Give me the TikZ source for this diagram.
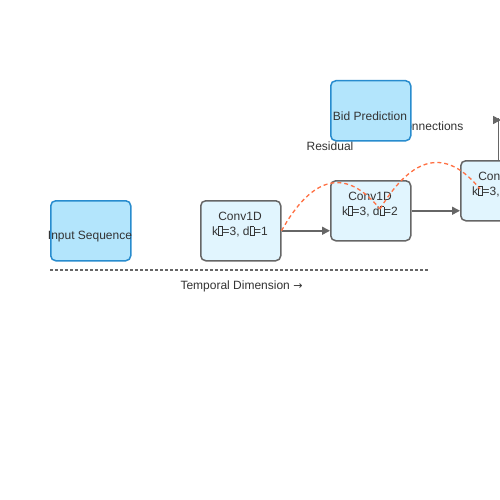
\documentclass[tikz,border=0pt]{standalone}
\usepackage{fontspec}
\setmainfont{Liberation Sans}
\newfontfamily\dejavu{DejaVu Sans}
\usetikzlibrary{arrows.meta}
\definecolor{inblue}{HTML}{B3E5FC}
\definecolor{inedge}{HTML}{288CCE}
\definecolor{convfill}{HTML}{E1F5FE}
\definecolor{greyedge}{HTML}{666666}
\definecolor{txt}{HTML}{333333}
\definecolor{resid}{HTML}{FF7043}
\newcommand{\tofu}{{\setlength{\fboxsep}{0pt}\setlength{\fboxrule}{0.5pt}\fbox{\rule{0pt}{8.5pt}\hspace{3.5pt}}}}
\tikzset{
  inbox/.style={draw=inedge, fill=inblue, line width=1.5pt, rounded corners=5pt,
    minimum width=80pt, minimum height=60pt, inner sep=0pt, anchor=north west},
  convbox/.style={draw=greyedge, fill=convfill, line width=1.5pt, rounded corners=5pt,
    minimum width=80pt, minimum height=60pt, inner sep=0pt, anchor=north west},
  lbl/.style={text=txt, font=\fontsize{12}{15}\selectfont, inner sep=0pt, align=center},
  arr/.style={draw=greyedge, line width=1.5pt, -{Triangle[length=8pt,width=8pt]}},
  plain/.style={draw=greyedge, line width=1.5pt},
  resline/.style={draw=resid, line width=1.3pt, dash pattern=on 4pt off 3pt},
  axis/.style={draw=greyedge, line width=1.3pt, dash pattern=on 3pt off 2pt}
}
\begin{document}
\begin{tikzpicture}[x=1pt,y=-1pt]
\useasboundingbox (0,0) rectangle (500,500);
\fill[white] (0,0) rectangle (500,500);

% axis
\coordinate (ax1) at (50,270);
\coordinate (ax2) at (428,270);
\draw[axis] (ax1) -- (ax2);
\node[lbl] (axl) at (241.5,286.5) {Temporal Dimension {\dejavu\fontsize{11}{15}\selectfont →}};

% labels behind the prediction box
\node[lbl] (resl) at (330,146.5) {Residual};
\node[lbl] (conl) at (430,126.5) {Connections};

% input
\node[inbox] (inp) at (50,200) {};
\node[lbl] (inpl) at (90,236.5) {Input Sequence};

% conv boxes
\node[convbox] (c1) at (200,200) {};
\node[lbl] (c1l) at (240,224.5) {Conv1D\\k\tofu=3, d\tofu=1};
\node[convbox] (c2) at (330,180) {};
\node[lbl] (c2l) at (370,204.5) {Conv1D\\k\tofu=3, d\tofu=2};
\node[convbox] (c3) at (460,160) {};
\node[lbl] (c3l) at (500,184.5) {Conv1D\\k\tofu=3, d\tofu=4};

% prediction
\node[inbox] (bid) at (330,80) {};
\node[lbl] (bidl) at (370,116.5) {Bid Prediction};

% arrows
\draw[arr] (c1.east) -- (c1.east -| c2.west);
\draw[arr] (c2.east) -- (c2.east -| c3.west);

% top-right connector
\coordinate (t1) at (498.5,160);
\coordinate (t2) at (498.5,118);
\draw[plain] (t1) -- (t2);
\coordinate (t3) at (492.5,120);
\coordinate (t4) at (501,120);
\draw[arr] (t3) -- (t4);

% residual arcs
\coordinate (r1) at (380,209);
\coordinate (r2) at (480,189);
\draw[resline] (c1.east) .. controls (313,174.5) and (346.5,168) .. (r1);
\draw[resline] (r1) .. controls (413,154.5) and (446.5,148) .. (r2);
\end{tikzpicture}
\end{document}
